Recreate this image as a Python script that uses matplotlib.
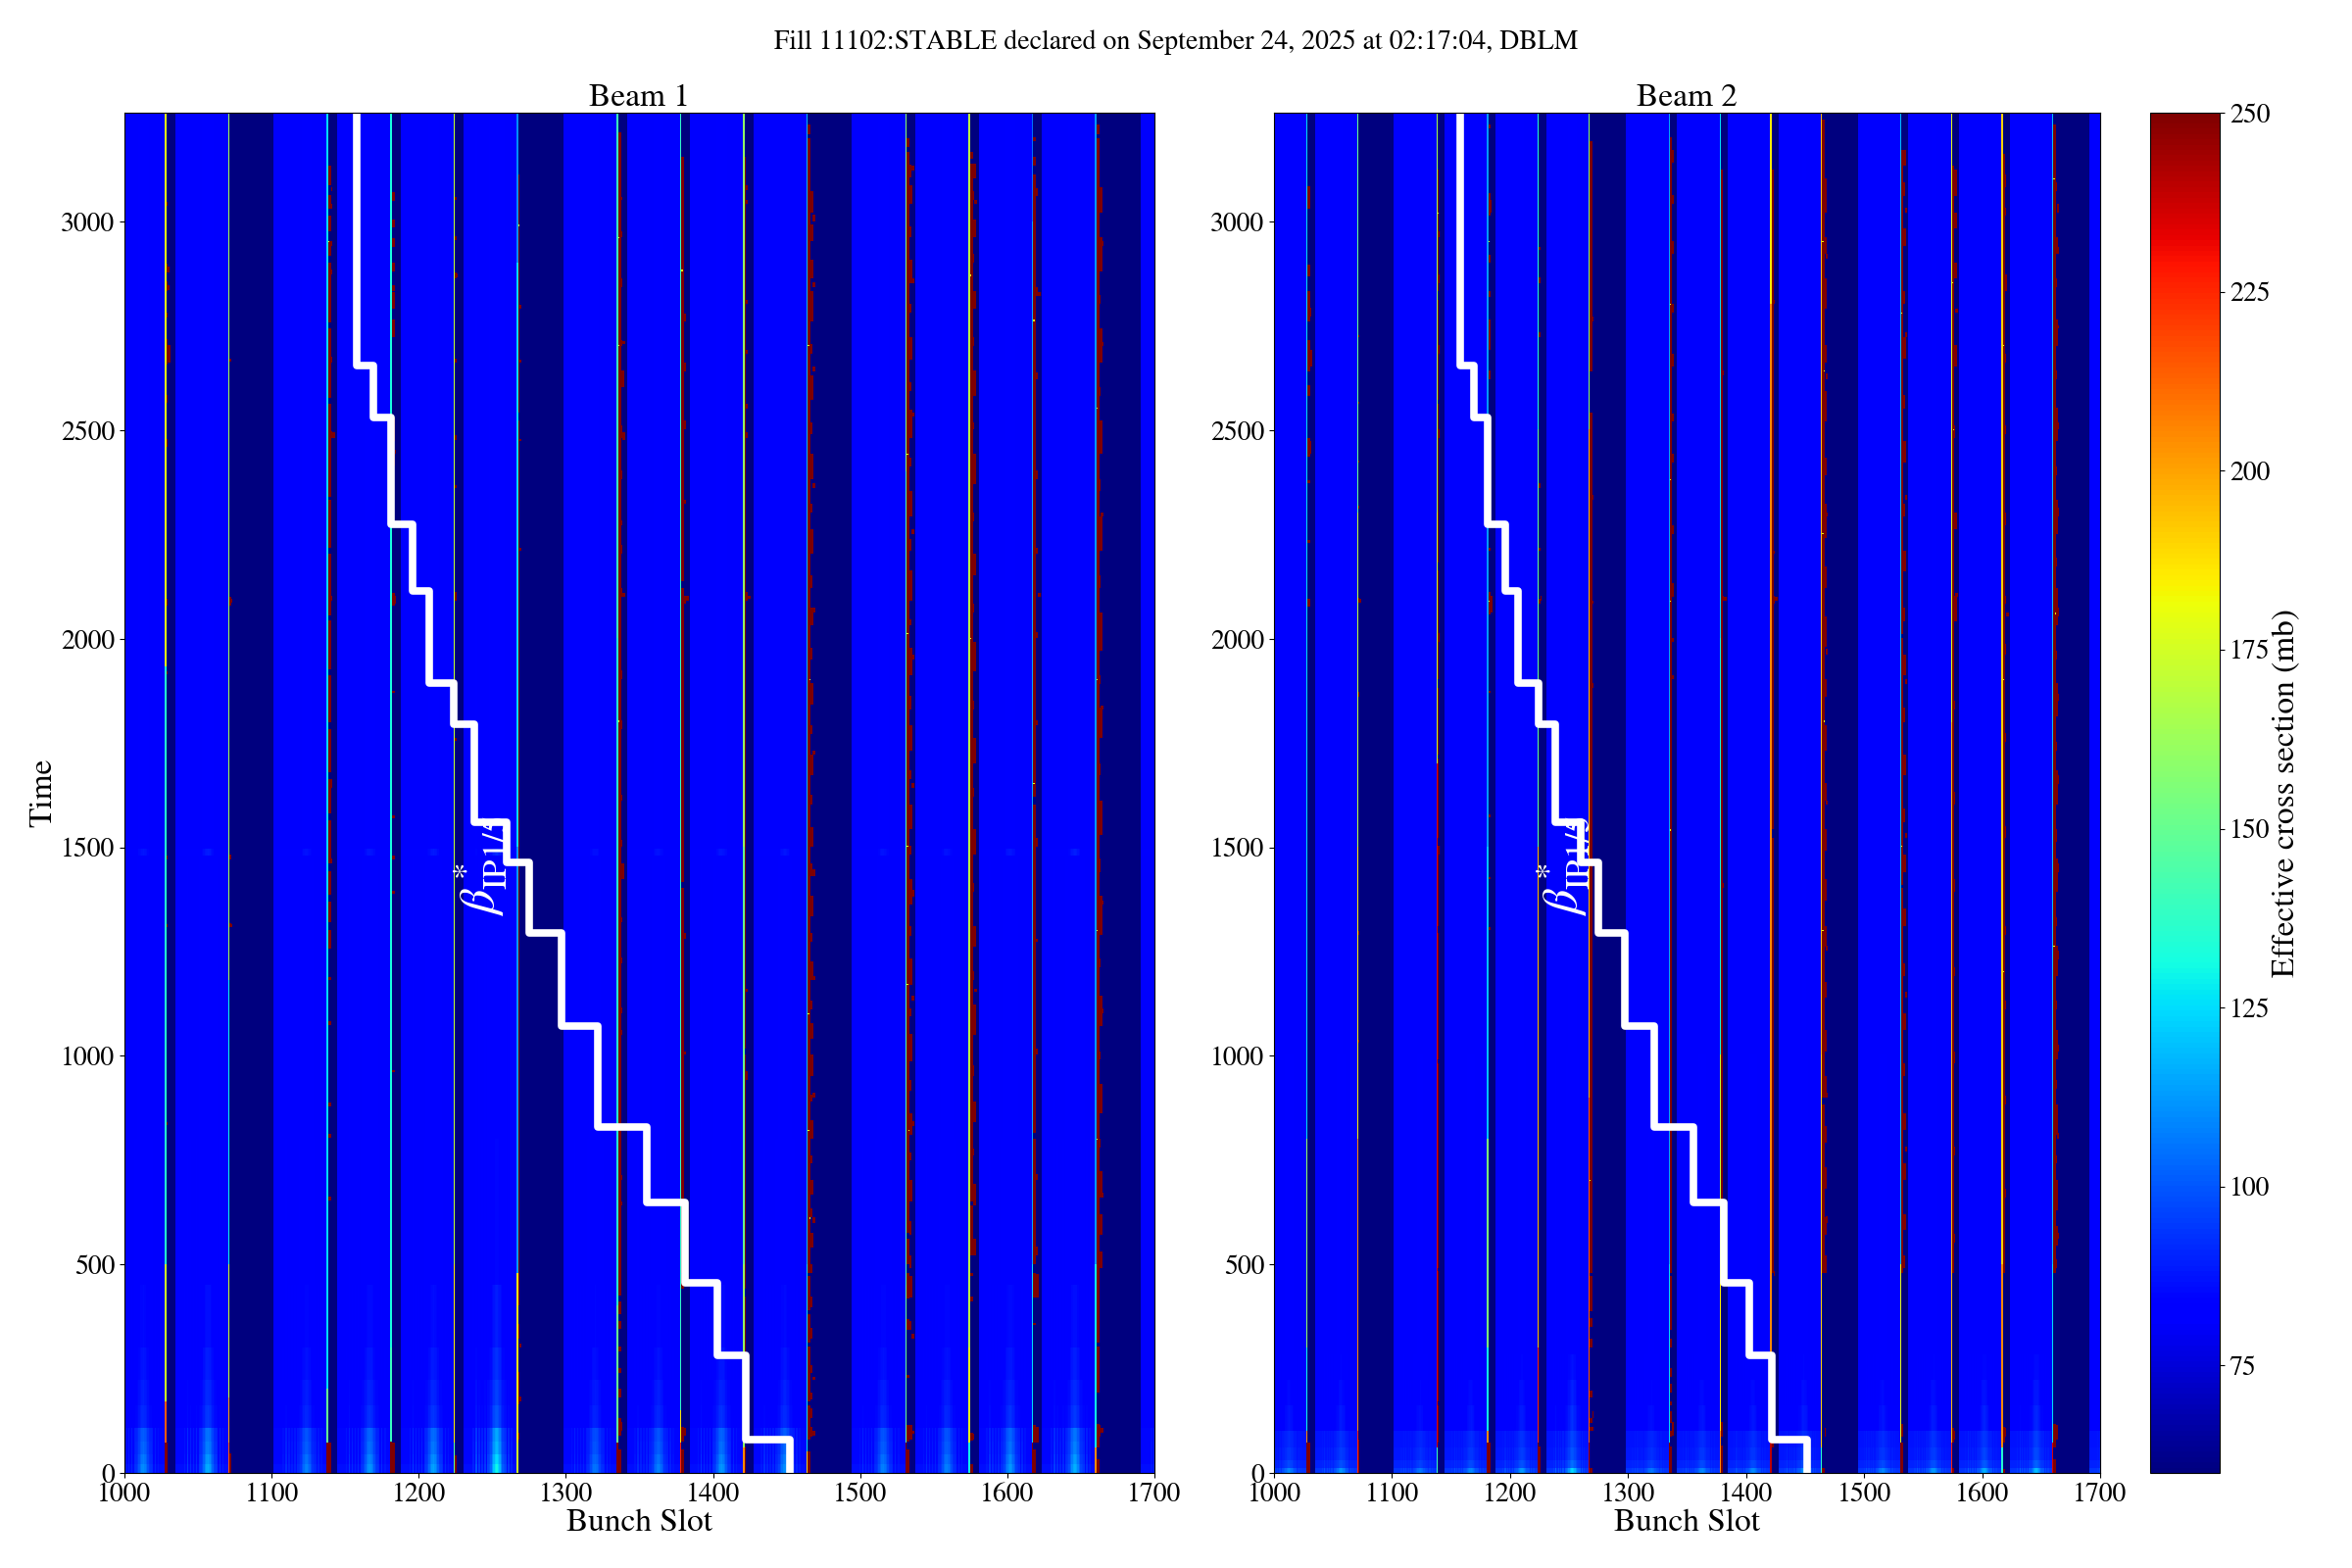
import matplotlib
matplotlib.use('Agg')
import matplotlib.pyplot as plt
import numpy as np

plt.rcParams['font.family'] = ['STIXGeneral', 'Liberation Serif', 'DejaVu Serif']
plt.rcParams['mathtext.fontset'] = 'stix'

# last filled slot of each train, first filled slot of the next one
train_ends = [1028, 1071, 1138, 1181, 1224, 1267, 1335, 1378, 1421, 1464, 1531, 1574, 1617, 1660]
next_starts = [1035, 1102, 1145, 1188, 1231, 1299, 1342, 1385, 1428, 1495, 1538, 1581, 1624, 1691]

# brightest bunch of each train, with its relative strength
peak_slots = [1013, 1057, 1124, 1167, 1210, 1253, 1320, 1363, 1406, 1449, 1516, 1559, 1602, 1646]
peak_gain_b1 = [0.55, 0.7, 0.5, 0.6, 0.65, 1.0, 0.45, 0.5, 0.6, 0.55, 0.5, 0.5, 0.6, 0.7]
peak_gain_b2 = [0.5, 0.6, 0.4, 0.5, 0.6, 1.0, 0.4, 0.5, 0.5, 0.6, 0.5, 0.6, 0.7, 0.8]
peak_offsets = [-16, -14, -12, -10, -8, -6, -5, -4, -3, -2, -1, 0, 1, 2, 3, 4, 5, 6, 8, 10]
peak_shape = [0.1, 0.3, 0.2, 0.15, 0.2, 0.25, 0.3, 0.4, 0.6, 0.8, 0.95, 1.0, 0.9, 0.75, 0.55, 0.35, 0.3, 0.25, 0.2, 0.1]

# time bands: upper edge, train level, peak level
band_top_b1 = [20, 45, 75, 108, 160, 220, 300, 450, 800, 1478, 1495, 3300]
band_base_b1 = [86, 85, 85, 85, 82, 82, 81, 81, 81, 81, 82, 81]
band_peak_b1 = [130, 125, 118, 115, 100, 96, 93, 89, 85, 84, 92, 83]
band_top_b2 = [12, 30, 60, 102, 160, 220, 285, 1000, 3300]
band_base_b2 = [94, 90, 88, 87, 82, 81, 81, 81, 81]
band_peak_b2 = [125, 105, 100, 97, 93, 90, 87, 83, 82]

# colour of the last bunch of each train: (from time, value)
line_b1 = [
    [(0, 250), (70, 215), (170, 175), (500, 135), (1930, 180)],
    [(0, 215), (70, 200), (180, 175), (500, 130), (1180, 165)],
    [(0, 250), (70, 150), (200, 125)],
    [(0, 250), (75, 140), (300, 132)],
    [(0, 150), (70, 185), (500, 172)],
    [(0, 175), (70, 185), (480, 112), (1500, 125), (2900, 110)],
    [(0, 250), (70, 150), (400, 135), (2000, 140)],
    [(0, 225), (70, 185), (150, 138)],
    [(0, 205), (60, 160), (500, 150), (1500, 160)],
    [(0, 190), (50, 125), (500, 118)],
    [(0, 250), (70, 150), (450, 145), (2400, 158)],
    [(0, 130), (70, 180), (300, 170)],
    [(0, 250), (70, 125), (500, 115), (3000, 105)],
    [(0, 205), (60, 130), (500, 112)],
]
line_b2 = [
    [(0, 250), (70, 205), (100, 130), (300, 160), (800, 125)],
    [(0, 225), (100, 205), (800, 185), (1500, 170), (2300, 150)],
    [(0, 140), (60, 235), (1700, 175), (2300, 165)],
    [(0, 250), (70, 205), (100, 130), (300, 155), (800, 120), (1500, 112)],
    [(0, 250), (70, 225), (300, 195), (1500, 150), (2500, 135)],
    [(0, 240), (70, 215), (900, 195), (2500, 160)],
    [(0, 250), (70, 125), (500, 115)],
    [(0, 205), (100, 185), (500, 170), (1000, 130), (2000, 125)],
    [(0, 240), (70, 205), (2800, 185)],
    [(0, 135), (60, 190), (1000, 195)],
    [(0, 250), (70, 180), (500, 120)],
    [(0, 225), (70, 195), (1800, 180)],
    [(0, 135), (60, 205), (500, 190)],
    [(0, 235), (70, 125), (500, 120)],
]

# how many slots the saturated stretch after each train covers
solid_width_b1 = [1, 1, 2, 2, 1, 1, 2, 2, 1, 2, 2, 2, 2, 2]
solid_width_b2 = [2, 1, 1, 2, 1, 2, 2, 2, 2, 2, 2, 2, 2, 2]

# saturated stretches right after the last bunch: (t0, t1), one list per train
c1_b1 = [
    [(0, 70), (833, 838), (1306, 1312), (1470, 1476), (1913, 1918), (2078, 2093), (2460, 2475), (2565, 2580), (2655, 2715), (2767, 2780), (2830, 2855), (2875, 2895), (3035, 3042)],
    [(0, 45), (1306, 1316), (1470, 1480), (2078, 2098), (2662, 2668)],
    [(0, 70), (654, 660), (804, 810), (879, 885), (1074, 1080), (1180, 1186), (1255, 1300), (1320, 1365), (1385, 1440), (1460, 1560), (1580, 1660), (1680, 1780), (1800, 1910), (1925, 2040), (2055, 2200), (2215, 2330), (2340, 2560), (2575, 2740), (2755, 2900), (2915, 2950), (2975, 3010), (3030, 3060), (3085, 3130)],
    [(0, 70), (960, 965), (1388, 1394), (1470, 1476), (1568, 1574), (1868, 1874), (2078, 2108), (2415, 2440), (2470, 2527), (2720, 2760), (2790, 2827), (2830, 2845), (2880, 2900), (2935, 2955), (2985, 3000), (3047, 3066)],
    [(0, 40), (1755, 1760), (1890, 1896), (2090, 2110), (2360, 2366), (2475, 2485), (2660, 2668), (2860, 2875), (2955, 2962), (3050, 3056)],
    [(80, 95), (165, 240), (320, 355), (400, 477), (480, 2520), (2540, 3110)],
    [(0, 55), (90, 130), (180, 200), (240, 250), (290, 300), (345, 360), (380, 410), (425, 477), (480, 3211)],
    [(0, 55), (75, 110), (440, 475), (480, 1400), (1415, 2120), (2135, 3152)],
    [(0, 60), (95, 140), (200, 420), (440, 1000), (1015, 3150)],
    [(0, 50), (80, 160), (170, 300), (310, 380), (390, 470), (480, 3195), (3205, 3230)],
    [(0, 54), (74, 113), (226, 232), (340, 367), (415, 477), (500, 560), (575, 3164), (3175, 3195)],
    [(0, 20), (78, 93), (410, 420), (470, 477), (520, 640), (650, 3137), (3150, 3164)],
    [(0, 55), (70, 113), (352, 358), (418, 477), (500, 800), (815, 1600), (1620, 3110), (3130, 3150), (3190, 3200)],
    [(0, 30), (60, 115), (190, 300), (310, 477), (480, 3195), (3205, 3230)],
]
# second and third column of the spill-over
c2_b1 = [
    [(2660, 2700), (2875, 2890), (2835, 2845)],
    [(1306, 1312), (2085, 2092)],
    [(1460, 1470), (1640, 1660), (2090, 2100), (2480, 2495), (2660, 2675), (2870, 2880), (2940, 2950), (3030, 3040), (3070, 3078)],
    [(2080, 2100), (2440, 2450)],
    [(2863, 2872)],
    [(170, 180), (300, 306), (2660, 2666), (2470, 2476), (2210, 2216), (2790, 2796)],
    [(100, 120), (2840, 2860), (2960, 2975), (3050, 3056), (2100, 2120), (2200, 2220), (2270, 2280), (2380, 2400), (2480, 2510), (2600, 2640), (2700, 2712), (1050, 1060), (1100, 1115), (1220, 1235), (1320, 1330), (1420, 1460), (1500, 1515), (1610, 1625), (1780, 1800), (1900, 1920), (640, 650), (700, 712), (820, 830)],
    [(90, 105), (2080, 2100), (2640, 2660), (1000, 1010), (1280, 1292), (2320, 2330), (2500, 2520), (2760, 2775)],
    [(2800, 2810), (3040, 3050), (3075, 3085), (2090, 2110), (2480, 2490), (2550, 2560), (2680, 2690), (940, 960), (1150, 1160)],
    [(85, 110), (130, 155), (175, 190), (240, 255), (320, 345), (395, 420), (480, 500), (540, 575), (610, 630), (665, 700), (740, 760), (800, 845), (890, 905), (950, 1000), (1040, 1075), (1110, 1130), (1180, 1225), (1270, 1290), (1335, 1380), (1430, 1460), (1500, 1545), (1600, 1625), (1670, 1720), (1770, 1790), (1840, 1890), (1950, 1975), (2030, 2070), (2120, 2150), (2200, 2260), (2300, 2320), (2380, 2440), (2490, 2515), (2570, 2630), (2680, 2705), (2760, 2830), (2860, 2905), (2950, 2990), (3020, 3070)],
    [(80, 112), (340, 362), (420, 470), (490, 520), (570, 600), (650, 700), (750, 765), (810, 860), (915, 940), (985, 1050), (1095, 1110), (1170, 1230), (1285, 1310), (1360, 1420), (1480, 1500), (1540, 1600), (1660, 1680), (1730, 1790), (1830, 1860), (1910, 1975), (2030, 2045), (2090, 2160), (2210, 2235), (2290, 2350), (2410, 2430), (2480, 2545), (2590, 2610), (2665, 2720), (2780, 2800), (2850, 2905), (2960, 2985), (3040, 3085), (3105, 3133)],
    [(80, 92), (520, 560), (640, 690), (760, 775), (840, 890), (950, 975), (1050, 1120), (1180, 1200), (1260, 1310), (1390, 1410), (1480, 1540), (1620, 1640), (1700, 1760), (1830, 1850), (1920, 1990), (2060, 2080), (2150, 2200), (2280, 2300), (2370, 2440), (2500, 2515), (2580, 2640), (2700, 2720), (2790, 2830), (2900, 2920), (2960, 3000), (3050, 3070), (3100, 3135)],
    [(70, 110), (420, 475), (520, 540), (700, 715), (1000, 1015), (1270, 1280), (1500, 1520), (1790, 1800), (2000, 2015), (2200, 2215), (2380, 2400), (2620, 2635), (2820, 2840), (3060, 3075)],
    [(85, 112), (490, 530), (570, 620), (660, 720), (780, 800), (860, 930), (990, 1010), (1070, 1140), (1210, 1230), (1290, 1380), (1440, 1470), (1530, 1610), (1670, 1700), (1760, 1830), (1890, 1910), (1970, 2060), (2120, 2150), (2210, 2290), (2350, 2380), (2440, 2520), (2580, 2600), (2660, 2740), (2800, 2820), (2880, 2960), (3020, 3078)],
]
c3_b1 = [
    [], [], [(2480, 2490)], [], [], [], [(2100, 2108), (2475, 2490), (2705, 2710)], [(2090, 2100)], [(2093, 2102)],
    [(90, 100), (220, 228), (600, 610), (900, 910), (1180, 1190), (1430, 1445), (1720, 1730), (2060, 2070), (2360, 2370), (2640, 2650), (2840, 2850), (3000, 3012)],
    [(92, 100), (320, 330), (830, 840), (1130, 1140), (1380, 1395), (1640, 1650), (1950, 1960), (2250, 2260), (2530, 2540), (2850, 2860), (3120, 3130)],
    [(1150, 1160), (3040, 3048)],
    [(2100, 2106), (2820, 2826)],
    [(95, 105), (660, 670), (1100, 1110), (1360, 1370), (1830, 1838), (2290, 2298), (2700, 2708), (2940, 2950)],
]

c1_b2 = [
    [(0, 70), (2075, 2093), (2228, 2234), (2372, 2378), (2435, 2480), (2578, 2605), (2640, 2713), (2758, 2830), (2866, 2893), (3028, 3082)],
    [(0, 80), (1030, 1036), (1290, 1296), (1860, 1870), (2084, 2094), (2310, 2316), (2420, 2426), (2560, 2566), (2720, 2726)],
    [(70, 160), (170, 480), (490, 980), (990, 1290), (1310, 1500), (1520, 1710), (1720, 1880), (1900, 2160), (2180, 2560), (2570, 2810), (2830, 3120)],
    [(0, 70), (1300, 1306), (1420, 1426), (1570, 1576), (1868, 1874), (2057, 2111), (2210, 2216), (2620, 2640), (2690, 2760), (2815, 2830), (2900, 2916), (3010, 3064), (3220, 3230)],
    [(0, 60), (2080, 2092), (2210, 2216), (2360, 2372), (2720, 2730), (2850, 2862), (2930, 2936)],
    [(0, 10), (100, 110), (120, 130), (180, 195), (300, 320), (350, 370), (385, 470), (480, 2540), (2640, 3190)],
    [(0, 60), (85, 100), (120, 145), (160, 170), (190, 210), (230, 250), (300, 320), (340, 470), (480, 3200)],
    [(0, 65), (85, 120), (480, 3120)],
    [(60, 110), (480, 1520), (1540, 3120)],
    [(0, 10), (480, 880), (900, 3240)],
    [(0, 70), (85, 115), (480, 1400), (1410, 2000), (2010, 3170)],
    [(0, 10), (70, 105), (480, 3130)],
    [(0, 8), (70, 110), (480, 3160)],
    [(0, 30), (60, 115), (480, 3230)],
]
c2_b2 = [
    [(2440, 2470), (2650, 2690), (2770, 2790)],
    [(2084, 2092)],
    [(1480, 1500), (1990, 2010), (2480, 2500), (2680, 2700), (2850, 2870), (2960, 2975)],
    [(2060, 2100), (3020, 3050)],
    [(2090, 2100)],
    [(100, 108), (130, 145), (1460, 1470), (1880, 1890), (2080, 2090), (2330, 2340), (2760, 2770)],
    [(90, 120), (1900, 1910), (1990, 2000), (2100, 2130), (2250, 2270), (2420, 2440), (2520, 2535), (2650, 2680), (2780, 2800), (2920, 2950), (3040, 3060), (3140, 3170)],
    [(2630, 2640), (2090, 2100), (1400, 1410)],
    [(70, 100), (470, 480), (2080, 2100), (2200, 2210), (2800, 2810)],
    [(85, 105), (480, 520), (570, 610), (680, 730), (790, 830), (900, 950), (1010, 1060), (1140, 1175), (1260, 1310), (1370, 1420), (1490, 1540), (1610, 1650), (1730, 1790), (1860, 1900), (1980, 2050), (2120, 2170), (2240, 2320), (2390, 2430), (2520, 2590), (2660, 2700), (2790, 2860), (2920, 2960), (3020, 3100)],
    [(490, 520), (580, 620), (700, 740), (820, 860), (950, 980), (1060, 1100), (1190, 1220), (1310, 1350), (1440, 1480), (1560, 1590), (1670, 1720), (1800, 1830), (1910, 1960), (2040, 2070), (2160, 2210), (2290, 2320), (2420, 2470), (2550, 2580), (2670, 2720), (2800, 2830), (2940, 2980), (3060, 3090), (3130, 3170)],
    [(80, 100), (550, 570), (760, 780), (980, 1010), (1190, 1210), (1390, 1420), (1600, 1630), (1830, 1850), (2040, 2100), (2260, 2300), (2480, 2510), (2650, 2700), (2860, 2900), (2980, 3020), (3060, 3120)],
    [(85, 105), (660, 680), (880, 900), (1110, 1130), (1290, 1310), (1520, 1550), (1750, 1770), (1960, 1985), (2080, 2100), (2270, 2300), (2490, 2510), (2660, 2680), (2830, 2870), (3010, 3030), (3080, 3110)],
    [(80, 112), (490, 510), (545, 590), (630, 700), (740, 760), (810, 880), (920, 940), (990, 1060), (1110, 1130), (1190, 1260), (1310, 1330), (1390, 1470), (1510, 1540), (1600, 1680), (1730, 1750), (1810, 1890), (1950, 1970), (2030, 2120), (2170, 2190), (2250, 2330), (2390, 2410), (2470, 2550), (2620, 2640), (2700, 2760), (2840, 2860), (2920, 2960), (3070, 3090)],
]
c3_b2 = [
    [], [], [], [], [], [], [], [(2090, 2098)], [(2090, 2098)],
    [(600, 612), (900, 910), (1250, 1262), (1600, 1610), (1960, 1972), (2290, 2300), (2620, 2632), (2910, 2920)],
    [(770, 780), (1140, 1150), (1520, 1530), (1890, 1900), (2330, 2340), (2720, 2730), (3020, 3030)],
    [(2100, 2108), (2780, 2788)],
    [(2050, 2058)],
    [(560, 575), (800, 815), (1010, 1025), (1230, 1250), (1440, 1460), (1650, 1670), (1850, 1865), (2050, 2070), (2290, 2310), (2500, 2515), (2740, 2750), (2920, 2935), (3020, 3040)],
]

# single bright pixels inside the spill-over: (train index, column, time)
specks_b1 = [(2, 1, 2950), (5, 1, 2990), (6, 1, 2960), (6, 1, 2700), (6, 1, 1800), (7, 1, 2880), (9, 1, 2700), (9, 2, 1900), (9, 1, 1100), (9, 1, 820), (9, 2, 610),
             (10, 1, 2440), (10, 1, 2010), (10, 1, 1500), (10, 1, 1170), (10, 2, 820), (11, 1, 2870), (11, 1, 2000), (12, 1, 2760), (12, 1, 1650), (13, 1, 2550), (13, 1, 1900), (13, 1, 1300), (13, 1, 800)]
specks_b2 = [(2, 1, 3020), (3, 1, 2950), (3, 1, 2090), (5, 1, 700), (6, 1, 2800), (6, 1, 2380), (6, 1, 2090), (6, 1, 1540), (9, 1, 2950), (9, 2, 2640), (9, 1, 2250), (9, 2, 1800),
             (9, 1, 1300), (10, 1, 2780), (10, 1, 1500), (11, 1, 2850), (11, 2, 2500), (12, 1, 2700), (12, 1, 1900), (12, 1, 1200), (13, 1, 3100), (13, 2, 2060), (13, 1, 1260)]

# stepped beta* leveling, same on both beams
beta_slots = [1452, 1422, 1403, 1381, 1355, 1322, 1297, 1275, 1260, 1238, 1224, 1207, 1196, 1181, 1169, 1158, 1158]
beta_times = [0, 80, 283, 455, 648, 830, 1072, 1295, 1465, 1560, 1795, 1895, 2115, 2275, 2530, 2655, 3262]

dt = 3
slots = np.arange(1000, 1701)
times = np.arange(0, 3264, dt)


def build_map(gains, band_top, band_base, band_peak, lines, widths, c1, c2, c3, specks):
    z = np.zeros((len(times), len(slots)))
    band = np.searchsorted(band_top, times, side='right')
    base = np.array(band_base)[band]
    peak = np.array(band_peak)[band]
    profile = np.zeros(len(slots))
    for s, g in zip(peak_slots, gains):
        for o, w in zip(peak_offsets, peak_shape):
            profile[s + o - 1000] = max(profile[s + o - 1000], g * w)
    z[:] = base[:, None] + (peak - base)[:, None] * profile[None, :]
    for k, end in enumerate(train_ends):
        z[:, end + 1 - 1000:next_starts[k] - 1000] = 40
        for t0, v in lines[k]:
            z[times >= t0, end - 1000] = v
        first = end + 1 - 1000
        w = widths[k]
        for t0, t1 in c1[k]:
            z[(times >= t0) & (times <= t1), first:first + w] = 255
        for t0, t1 in c2[k]:
            # the longer dashes reach one slot further
            extra = 2 if t1 - t0 > 30 else 1
            z[(times >= t0) & (times <= t1), first + w:first + w + extra] = 255
        for t0, t1 in c3[k]:
            z[(times >= t0) & (times <= t1), first + w + 1:first + w + 3] = 255
    for k, col, t in specks:
        z[t // dt, train_ends[k] + col - 1000] = 180
    return z


map_b1 = build_map(peak_gain_b1, band_top_b1, band_base_b1, band_peak_b1, line_b1, solid_width_b1, c1_b1, c2_b1, c3_b1, specks_b1)
map_b2 = build_map(peak_gain_b2, band_top_b2, band_base_b2, band_peak_b2, line_b2, solid_width_b2, c1_b2, c2_b2, c3_b2, specks_b2)

fig = plt.figure(figsize=(24, 16), dpi=100)
ax1 = fig.add_axes([127 / 2400, 1 - 1503 / 1600, 1051 / 2400, 1388 / 1600])
ax2 = fig.add_axes([1300 / 2400, 1 - 1503 / 1600, 843 / 2400, 1388 / 1600])
cax = fig.add_axes([2194 / 2400, 1 - 1503 / 1600, 71 / 2400, 1388 / 1600])

for ax, z, name, text_x in [(ax1, map_b1, 'Beam 1', 1242), (ax2, map_b2, 'Beam 2', 1245)]:
    im = ax.imshow(z, origin='lower', aspect='auto', cmap='jet', vmin=60, vmax=250,
                   interpolation='nearest', extent=[999.5, 1700.5, 0, times[-1] + dt])
    ax.step(beta_slots, beta_times, where='pre', color='white', lw=5.5)
    ax.text(text_x, 1335, r'$\beta^*_{\mathrm{IP1/5}}$', color='white', fontsize=36,
            rotation=90, ha='center', va='bottom')
    ax.set_xlim(1000, 1700)
    ax.set_ylim(0, 3262)
    ax.set_xticks([1000, 1100, 1200, 1300, 1400, 1500, 1600, 1700])
    ax.tick_params(axis='both', labelsize=20)
    ax.set_title(name, fontsize=24, pad=5)
    ax.set_xlabel('Bunch Slot', fontsize=24, labelpad=1)

ax1.set_ylabel('Time', fontsize=24, labelpad=2)

cbar = fig.colorbar(im, cax=cax)
cbar.set_ticks([75, 100, 125, 150, 175, 200, 225, 250])
cbar.ax.tick_params(labelsize=20)
cbar.set_label('Effective cross section (mb)', fontsize=24, labelpad=2)

fig.text(1200 / 2400, 1 - 43 / 1600, 'Fill 11102:STABLE declared on September 24, 2025 at 02:17:04, DBLM',
         fontsize=20, ha='center', va='center')

fig.savefig('out.png', dpi=100)
